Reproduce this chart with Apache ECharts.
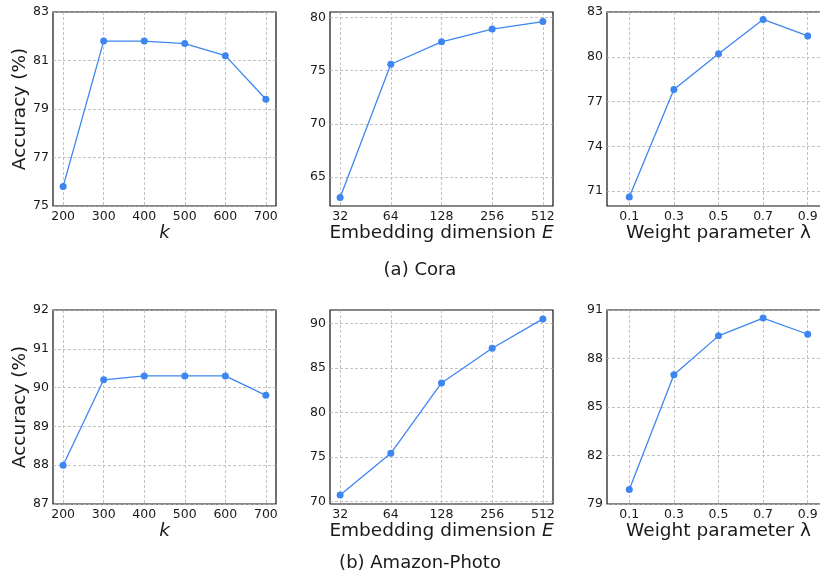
<!DOCTYPE html>
<html>
<head>
<meta charset="utf-8">
<script src="https://cdn.jsdelivr.net/npm/echarts@6/dist/echarts.min.js"></script>
<style>
  html, body { margin: 0; padding: 0; background: #fff; }
  #main { width: 820px; height: 579px; }
</style>
</head>
<body>
<div id="main"></div>
<script>
// x values
const kValues = [200, 300, 400, 500, 600, 700];
const dims = [32, 64, 128, 256, 512];
const lambdas = [0.1, 0.3, 0.5, 0.7, 0.9];

// (a) Cora
const coraK = [75.8, 81.8, 81.8, 81.7, 81.2, 79.4];
const coraDim = [63.1, 75.6, 77.7, 78.9, 79.6];
const coraLambda = [70.6, 77.8, 80.2, 82.5, 81.4];

// (b) Amazon-Photo
const photoK = [88.0, 90.2, 90.3, 90.3, 90.3, 89.8];
const photoDim = [70.7, 75.4, 83.3, 87.2, 90.5];
const photoLambda = [79.9, 87.0, 89.4, 90.5, 89.5];

// tick labels
const kTicks = [200, 300, 400, 500, 600, 700];
const dimTicks = [32, 64, 128, 256, 512];
const lambdaTicks = [0.1, 0.3, 0.5, 0.7, 0.9];
const coraKTicks = [75, 77, 79, 81, 83];
const coraDimTicks = [65, 70, 75, 80];
const coraLambdaTicks = [71, 74, 77, 80, 83];
const photoKTicks = [87, 88, 89, 90, 91, 92];
const photoDimTicks = [70, 75, 80, 85, 90];
const photoLambdaTicks = [79, 82, 85, 88, 91];

const FONT = 'DejaVu Sans';
const TEXT = '#1a1a1a';
const BLUE = '#3d86f2';

const cols = [53, 330, 607];
const rows = [12, 310];
const W = 223, H = 194;

// 每个子图: x轴/y轴设置 + 数据
const panels = [
  {x: kValues, y: coraK, xr: [175, 725], xt: kTicks, yr: [75, 83], yt: coraKTicks, xn: 'k', yn: true},
  {x: dims, y: coraDim, log: true, xr: [4.8, 9.2], xt: dimTicks, yr: [62.3, 80.5], yt: coraDimTicks, xn: 'E'},
  {x: lambdas, y: coraLambda, xr: [0, 1], xt: lambdaTicks, yr: [70, 83], yt: coraLambdaTicks, xn: 'L'},
  {x: kValues, y: photoK, xr: [175, 725], xt: kTicks, yr: [87, 92], yt: photoKTicks, xn: 'k', yn: true},
  {x: dims, y: photoDim, log: true, xr: [4.8, 9.2], xt: dimTicks, yr: [69.7, 91.5], yt: photoDimTicks, xn: 'E'},
  {x: lambdas, y: photoLambda, xr: [0, 1], xt: lambdaTicks, yr: [79, 91], yt: photoLambdaTicks, xn: 'L'},
];

const xNames = {
  k: '{i|k}',
  E: 'Embedding dimension {i|E}',
  L: 'Weight parameter λ'
};

const splitLine = {show: true, lineStyle: {color: '#b4b4b4', type: [3, 2], width: 0.8}};

const grid = [], xAxis = [], yAxis = [], series = [];
panels.forEach((p, i) => {
  grid.push({
    left: cols[i % 3], top: rows[Math.floor(i / 3)], width: W, height: H,
    show: true, borderColor: '#111', borderWidth: 1.2, backgroundColor: 'transparent',
    containLabel: false, outerBoundsMode: 'none'
  });
  const xt = p.log ? p.xt.map(v => Math.log2(v)) : p.xt;
  xAxis.push({
    type: 'value', gridIndex: i, min: p.xr[0], max: p.xr[1],
    axisLine: {show: false},
    axisTick: {show: false, customValues: xt},
    axisLabel: {
      customValues: xt, margin: 4, fontFamily: FONT, fontSize: 12.5, color: TEXT,
      formatter: v => p.log ? String(Math.round(Math.pow(2, v))) : String(v)
    },
    splitLine: splitLine,
    name: xNames[p.xn], nameLocation: 'middle', nameGap: 18,
    nameTextStyle: {
      fontFamily: FONT, fontSize: 18.5, color: TEXT,
      rich: {i: {fontFamily: FONT, fontSize: 18.5, fontStyle: 'italic', color: TEXT}}
    }
  });
  yAxis.push({
    type: 'value', gridIndex: i, min: p.yr[0], max: p.yr[1],
    axisLine: {show: false},
    axisTick: {show: false, customValues: p.yt},
    axisLabel: {customValues: p.yt, margin: 4, fontFamily: FONT, fontSize: 12.5, color: TEXT},
    splitLine: splitLine,
    name: p.yn ? 'Accuracy (%)' : '', nameLocation: 'middle', nameGap: 22,
    nameTextStyle: {fontFamily: FONT, fontSize: 18.5, color: TEXT}
  });
  series.push({
    type: 'line', xAxisIndex: i, yAxisIndex: i,
    data: p.x.map((v, j) => [p.log ? Math.log2(v) : v, p.y[j]]),
    symbol: 'circle', symbolSize: 7,
    itemStyle: {color: BLUE},
    lineStyle: {color: BLUE, width: 1.3}
  });
});

const chart = echarts.init(document.getElementById('main'));
chart.setOption({
  animation: false,
  backgroundColor: '#fff',
  grid, xAxis, yAxis, series,
  graphic: [
    {type: 'text', x: 420, y: 270, style: {text: '(a) Cora', font: '18px "DejaVu Sans"', fill: TEXT, textAlign: 'center', textVerticalAlign: 'middle'}},
    {type: 'text', x: 420, y: 563, style: {text: '(b) Amazon-Photo', font: '18px "DejaVu Sans"', fill: TEXT, textAlign: 'center', textVerticalAlign: 'middle'}}
  ]
});
</script>
</body>
</html>
